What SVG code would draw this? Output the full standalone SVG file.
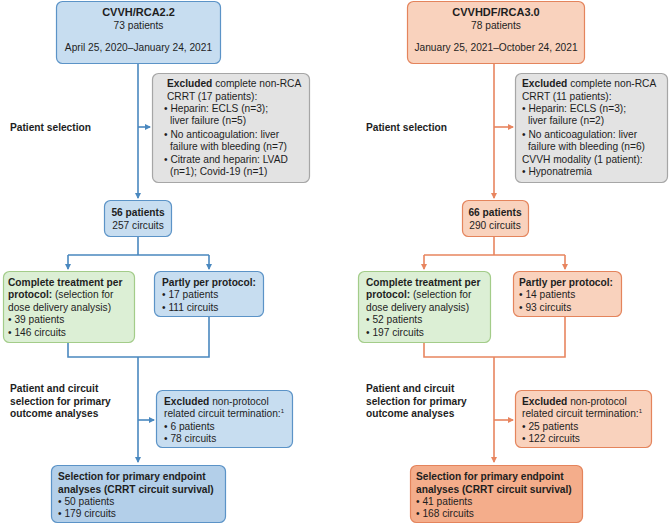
<svg xmlns="http://www.w3.org/2000/svg" width="669" height="527" viewBox="0 0 669 527">
<style>
text{font-family:"Liberation Sans",Arial,sans-serif;font-size:10.2px;fill:#1e1e1e}
.b{font-weight:bold}
.c{text-anchor:middle}
.t{font-size:11px}
.blue{fill:#c7ddf0;stroke:#5b93c7;stroke-width:1.2}
.blue2{fill:#b3cfe9;stroke:#5b93c7;stroke-width:1.2}
.org{fill:#f9d2bd;stroke:#e4845c;stroke-width:1.2}
.org2{fill:#f4ad8b;stroke:#e4845c;stroke-width:1.2}
.grn{fill:#dcefd5;stroke:#a3cc89;stroke-width:1.2}
.gry{fill:#e3e3e3;stroke:#a6a6a6;stroke-width:1.2}
.lb{fill:none;stroke:#4a88bf;stroke-width:1.6}
.lo{fill:none;stroke:#e8855f;stroke-width:1.6}
</style>
<defs>
<marker id="ab" markerWidth="6" markerHeight="6" refX="5" refY="3" orient="auto" markerUnits="userSpaceOnUse"><path d="M0,0 L6,3 L0,6 Z" fill="#4a88bf"/></marker>
<marker id="ao" markerWidth="6" markerHeight="6" refX="5" refY="3" orient="auto" markerUnits="userSpaceOnUse"><path d="M0,0 L6,3 L0,6 Z" fill="#e8855f"/></marker>
</defs>

<g id="connectors">
<path class="lb" d="M138,63 V198" marker-end="url(#ab)"/>
<path class="lb" d="M138,127 H150" marker-end="url(#ab)"/>
<path class="lb" d="M138,236 V255 M68,255 H209"/>
<path class="lb" d="M68,255 V269" marker-end="url(#ab)"/>
<path class="lb" d="M209,255 V269" marker-end="url(#ab)"/>
<path class="lb" d="M68,342 V357 H209 V316"/>
<path class="lb" d="M138,357 V462" marker-end="url(#ab)"/>
<path class="lb" d="M138,420 H154" marker-end="url(#ab)"/>
<path class="lo" d="M494,63 V198" marker-end="url(#ao)"/>
<path class="lo" d="M494,127 H513" marker-end="url(#ao)"/>
<path class="lo" d="M494,236 V255 M424,255 H565"/>
<path class="lo" d="M424,255 V269" marker-end="url(#ao)"/>
<path class="lo" d="M565,255 V269" marker-end="url(#ao)"/>
<path class="lo" d="M424,342 V357 H565 V316"/>
<path class="lo" d="M494,357 V462" marker-end="url(#ao)"/>
<path class="lo" d="M494,420 H513" marker-end="url(#ao)"/>
</g>

<g id="labels">
<text class="b" x="10" y="131">Patient selection</text>
<text class="b" x="366" y="131">Patient selection</text>
<text class="b" x="10" y="392">Patient and circuit</text>
<text class="b" x="10" y="405">selection for primary</text>
<text class="b" x="10" y="417">outcome analyses</text>
<text class="b" x="366" y="392">Patient and circuit</text>
<text class="b" x="366" y="405">selection for primary</text>
<text class="b" x="366" y="417">outcome analyses</text>
</g>

<g id="left-top">
<rect class="blue" x="56.5" y="1.5" width="164" height="62" rx="6"/>
<text class="c b t" x="138.5" y="16">CVVH/RCA2.2</text>
<text class="c" x="138.5" y="28.5">73 patients</text>
<text class="c" x="138.5" y="50.5">April 25, 2020–January 24, 2021</text>
</g>
<g id="left-excluded1">
<rect class="gry" x="152.5" y="73.5" width="157" height="109" rx="6"/>
<text x="167" y="87"><tspan class="b">Excluded</tspan> complete non-RCA</text>
<text x="167" y="99.5">CRRT (17 patients):</text>
<text x="164" y="112">• Heparin: ECLS (n=3);</text>
<text x="170" y="124">liver failure (n=5)</text>
<text x="164" y="137.5">• No anticoagulation: liver</text>
<text x="170" y="150">failure with bleeding (n=7)</text>
<text x="164" y="162.5">• Citrate and heparin: LVAD</text>
<text x="170" y="175">(n=1); Covid-19 (n=1)</text>
</g>
<g id="left-56">
<rect class="blue" x="104.5" y="200.5" width="67" height="36" rx="6"/>
<text class="c b" x="138" y="215.5">56 patients</text>
<text class="c" x="138" y="228.5">257 circuits</text>
</g>
<g id="left-complete">
<rect class="grn" x="3.5" y="271.5" width="131" height="71" rx="6"/>
<text class="b" x="8" y="286">Complete treatment per</text>
<text x="8" y="298"><tspan class="b">protocol:</tspan> (selection for</text>
<text x="8" y="310.5">dose delivery analysis)</text>
<text x="8" y="323">• 39 patients</text>
<text x="8" y="335.5">• 146 circuits</text>
</g>
<g id="left-partly">
<rect class="blue" x="154.5" y="271.5" width="109" height="45" rx="6"/>
<text class="b" x="162" y="286">Partly per protocol:</text>
<text x="162" y="298">• 17 patients</text>
<text x="162" y="310.5">• 111 circuits</text>
</g>
<g id="left-excluded2">
<rect class="blue" x="156.5" y="390.5" width="136" height="57" rx="6"/>
<text x="164" y="404.5"><tspan class="b">Excluded</tspan> non-protocol</text>
<text x="164" y="417">related circuit termination:<tspan font-size="6" dy="-4">1</tspan></text>
<text x="164" y="429.5">• 6 patients</text>
<text x="164" y="442">• 78 circuits</text>
</g>
<g id="left-selection">
<rect class="blue2" x="51.5" y="465.5" width="174" height="57" rx="6"/>
<text class="b" x="58" y="480">Selection for primary endpoint</text>
<text class="b" x="58" y="492.5">analyses (CRRT circuit survival)</text>
<text x="58" y="505">• 50 patients</text>
<text x="58" y="517">• 179 circuits</text>
</g>

<g id="right-top">
<rect class="org" x="407.5" y="1.5" width="177" height="62" rx="6"/>
<text class="c b t" x="496" y="16">CVVHDF/RCA3.0</text>
<text class="c" x="496" y="28.5">78 patients</text>
<text class="c" x="496" y="50.5">January 25, 2021–October 24, 2021</text>
</g>
<g id="right-excluded1">
<rect class="gry" x="515.5" y="73.5" width="152" height="109" rx="6"/>
<text x="522" y="87"><tspan class="b">Excluded</tspan> complete non-RCA</text>
<text x="522" y="99.5">CRRT (11 patients):</text>
<text x="522" y="112">• Heparin: ECLS (n=3);</text>
<text x="528" y="124">liver failure (n=2)</text>
<text x="522" y="137.5">• No anticoagulation: liver</text>
<text x="528" y="150">failure with bleeding (n=6)</text>
<text x="522" y="162.5">CVVH modality (1 patient):</text>
<text x="522" y="175">• Hyponatremia</text>
</g>
<g id="right-66">
<rect class="org" x="462.5" y="200.5" width="66" height="36" rx="6"/>
<text class="c b" x="495" y="215.5">66 patients</text>
<text class="c" x="495" y="228.5">290 circuits</text>
</g>
<g id="right-complete">
<rect class="grn" x="358.5" y="271.5" width="132" height="71" rx="6"/>
<text class="b" x="366" y="286">Complete treatment per</text>
<text x="366" y="298"><tspan class="b">protocol:</tspan> (selection for</text>
<text x="366" y="310.5">dose delivery analysis)</text>
<text x="366" y="323">• 52 patients</text>
<text x="366" y="335.5">• 197 circuits</text>
</g>
<g id="right-partly">
<rect class="org" x="513.5" y="271.5" width="108" height="45" rx="6"/>
<text class="b" x="519" y="286">Partly per protocol:</text>
<text x="519" y="298">• 14 patients</text>
<text x="519" y="310.5">• 93 circuits</text>
</g>
<g id="right-excluded2">
<rect class="org" x="515.5" y="390.5" width="136" height="57" rx="6"/>
<text x="522" y="404.5"><tspan class="b">Excluded</tspan> non-protocol</text>
<text x="522" y="417">related circuit termination:<tspan font-size="6" dy="-4">1</tspan></text>
<text x="522" y="429.5">• 25 patients</text>
<text x="522" y="442">• 122 circuits</text>
</g>
<g id="right-selection">
<rect class="org2" x="410.5" y="465.5" width="172" height="57" rx="6"/>
<text class="b" x="416" y="480">Selection for primary endpoint</text>
<text class="b" x="416" y="492.5">analyses (CRRT circuit survival)</text>
<text x="416" y="505">• 41 patients</text>
<text x="416" y="517">• 168 circuits</text>
</g>
</svg>
